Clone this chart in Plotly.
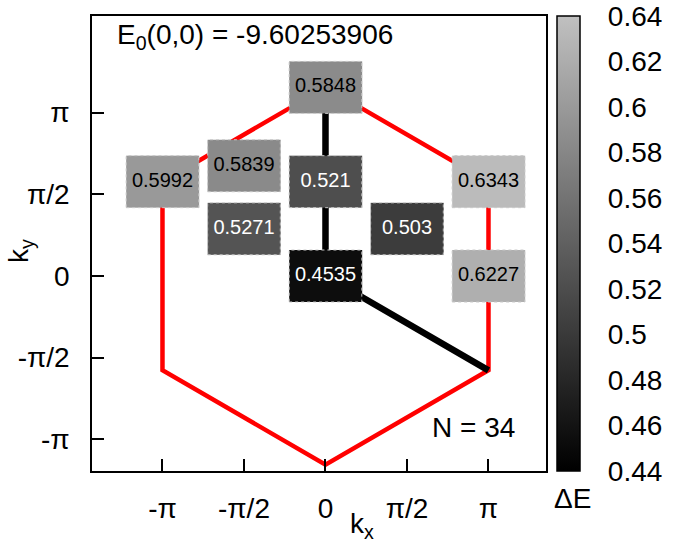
import math
import plotly.graph_objects as go

PI = math.pi
S3 = math.sqrt(3)

# data
box_kx = [0.0, 0.0, 0.0, -PI, PI, -PI / 2, -PI / 2, PI / 2, PI]
box_ky = [0.0, PI / S3, 2 * PI / S3, PI / S3, PI / S3, 2.12, PI / (2 * S3), PI / (2 * S3), 0.0]
box_val = [0.4535, 0.521, 0.5848, 0.5992, 0.6343, 0.5839, 0.5271, 0.503, 0.6227]

hex_kx = [0.0, PI, PI, 0.0, -PI, -PI, 0.0]
hex_ky = [2 * PI / S3, PI / S3, -PI / S3, -2 * PI / S3, -PI / S3, PI / S3, 2 * PI / S3]

path_kx = [0.0, 0.0, PI]
path_ky = [2 * PI / S3, 0.0, -PI / S3]

tick_vals = [-PI, -PI / 2, 0.0, PI / 2, PI]
tick_text = ["-π", "-π/2", "0", "π/2", "π"]

cb_vals = [0.44, 0.46, 0.48, 0.5, 0.52, 0.54, 0.56, 0.58, 0.6, 0.62, 0.64]
cb_text = ["0.44", "0.46", "0.48", "0.5", "0.52", "0.54", "0.56", "0.58", "0.6", "0.62", "0.64"]

e0_value = "-9.60253906"
n_sites = 34

BW, BH = 1.4, 1.0
FONT = "Liberation Sans, Arial, sans-serif"


def svg_path(xs, ys):
    return "M " + " L ".join(f"{x},{y}" for x, y in zip(xs, ys))


fig = go.Figure()

ox, oy = [], []
for cx, cy, v in zip(box_kx, box_ky, box_val):
    fig.add_trace(go.Heatmap(x=[cx - BW / 2, cx + BW / 2], y=[cy - BH / 2, cy + BH / 2],
                             z=[[v]], coloraxis="coloraxis", hoverinfo="skip"))
    ox += [cx - BW / 2, cx + BW / 2, cx + BW / 2, cx - BW / 2, cx - BW / 2, None]
    oy += [cy - BH / 2, cy - BH / 2, cy + BH / 2, cy + BH / 2, cy - BH / 2, None]

fig.add_trace(go.Scatter(x=ox, y=oy, mode="lines", line=dict(color="#c8c8c8", width=1, dash="dot"),
                         hoverinfo="skip", showlegend=False))

fig.add_trace(go.Scatter(x=box_kx, y=box_ky, mode="text", text=[str(v) for v in box_val],
                         textposition="middle center",
                         textfont=dict(family=FONT, size=20,
                                       color=["#ffffff" if v < 0.55 else "#000000" for v in box_val]),
                         hoverinfo="skip", showlegend=False))

fig.add_shape(type="path", xref="x", yref="y", path=svg_path(hex_kx, hex_ky),
              line=dict(color="#ff0000", width=4.5), layer="below")
fig.add_shape(type="path", xref="x", yref="y", path=svg_path(path_kx, path_ky),
              line=dict(color="#000000", width=6.5), layer="below")

axis_common = dict(tickvals=tick_vals, ticktext=tick_text, ticks="inside", ticklen=12,
                   tickwidth=1.5, tickcolor="black", showgrid=False, zeroline=False,
                   showline=True, linecolor="black", linewidth=1.5, mirror=True,
                   tickfont=dict(family=FONT, size=28, color="black"))

fig.update_layout(
    width=686, height=542,
    margin=dict(l=92, r=140, t=16, b=71),
    plot_bgcolor="white", paper_bgcolor="white",
    showlegend=False,
    xaxis=dict(range=[-4.5, 4.25], ticklabelstandoff=12, **axis_common),
    yaxis=dict(range=[-3.75, 5.0], ticklabelstandoff=15, **axis_common),
    coloraxis=dict(
        cmin=0.44, cmax=0.64,
        colorscale=[[0, "#000000"], [1, "#c0c0c0"]],
        colorbar=dict(x=1.024, xanchor="left", xref="paper", y=0, yanchor="bottom", len=1,
                      lenmode="fraction", thickness=23, thicknessmode="pixels",
                      outlinecolor="black", outlinewidth=1.5,
                      tickvals=cb_vals, ticktext=cb_text, ticks="outside", ticklen=22,
                      tickcolor="rgba(0,0,0,0)",
                      tickfont=dict(family=FONT, size=28, color="black"),
                      xpad=0, ypad=0),
    ),
    annotations=[
        dict(text=f"E<sub>0</sub>(0,0) = {e0_value}", xref="paper", yref="paper",
             x=(115 - 92) / 454, y=(471 - 37) / 455, xanchor="left", yanchor="middle",
             showarrow=False, font=dict(family=FONT, size=28, color="black")),
        dict(text=f"N = {n_sites}", xref="paper", yref="paper",
             x=(517 - 92) / 454, y=(471 - 427) / 455, xanchor="right", yanchor="middle",
             showarrow=False, font=dict(family=FONT, size=28, color="black")),
        dict(text="k<sub>x</sub>", xref="paper", yref="paper",
             x=(362 - 92) / 454, y=(471 - 525) / 455, xanchor="center", yanchor="middle",
             showarrow=False, font=dict(family=FONT, size=28, color="black")),
        dict(text="k<sub>y</sub>", xref="paper", yref="paper",
             x=(21 - 92) / 454, y=(471 - 251) / 455, xanchor="center", yanchor="middle",
             textangle=-90, showarrow=False, font=dict(family=FONT, size=28, color="black")),
        dict(text="ΔE", xref="paper", yref="paper",
             x=(572 - 92) / 454, y=(471 - 498) / 455, xanchor="center", yanchor="middle",
             showarrow=False, font=dict(family=FONT, size=28, color="black")),
    ],
)

fig.write_html("out.html", config={"displayModeBar": False},
               post_script="document.body.style.margin='0';")
